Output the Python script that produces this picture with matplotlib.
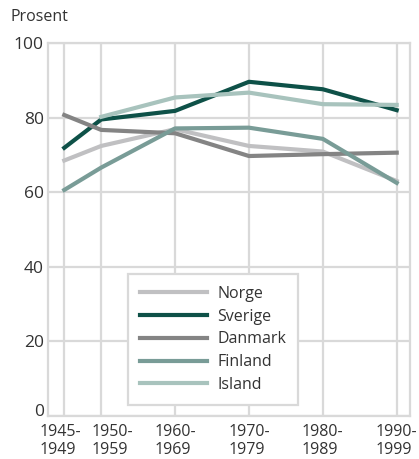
import matplotlib
matplotlib.use('Agg')
import matplotlib.pyplot as plt
import matplotlib.transforms as mtransforms

plt.rcParams['font.family'] = ['Open Sans', 'DejaVu Sans']

# start year of each period
years = [1945, 1950, 1960, 1970, 1980, 1990]
tick_labels = ['1945-\n1949', '1950-\n1959', '1960-\n1969', '1970-\n1979', '1980-\n1989', '1990-\n1999']

norge = [68.5, 72.4, 76.9, 72.4, 70.9, 63.0]
sverige = [71.9, 79.5, 81.8, 89.6, 87.6, 82.0]
danmark = [80.7, 76.7, 75.8, 69.7, 70.2, 70.6]
finland = [60.6, 66.6, 77.1, 77.3, 74.3, 62.5]
island_years = [1950, 1960, 1970, 1980, 1990]
island = [80.2, 85.4, 86.7, 83.6, 83.4]

grid_col = '#d9d9d9'

fig = plt.figure(figsize=(4.19, 4.59), dpi=100)
ax = fig.add_axes([0.1146, 0.0937, 0.8639, 0.8126])

ax.plot(years, norge, color='#c0c0c2', lw=3, label='Norge')
ax.plot(years, sverige, color='#0e5148', lw=3, label='Sverige')
ax.plot(years, danmark, color='#848484', lw=3, label='Danmark')
ax.plot(years, finland, color='#799c97', lw=3, label='Finland')
ax.plot(island_years, island, color='#a8c3bd', lw=3, label='Island')

ax.set_xlim(1942.8, 1991.8)
ax.set_ylim(0, 100)
ax.set_yticks([0, 20, 40, 60, 80, 100])
ax.set_xticks(years)
ax.set_xticklabels(tick_labels, fontsize=11.5, color='#333333', linespacing=1.15,
                   multialignment='left')
ax.tick_params(axis='y', labelsize=12.5, colors='#333333', length=0, pad=3)
ax.tick_params(axis='x', length=0, pad=6)
ax.grid(True, color=grid_col, lw=1.6)
ax.set_axisbelow(True)
for s in ax.spines.values():
    s.set_color(grid_col)
    s.set_linewidth(1.6)

# nudge crowded tick labels apart
pt = fig.dpi_scale_trans
xl = ax.get_xticklabels()
xl[0].set_transform(xl[0].get_transform() + mtransforms.ScaledTranslation(-3/72, 0, pt))
xl[1].set_transform(xl[1].get_transform() + mtransforms.ScaledTranslation(8/72, 0, pt))
yl = ax.get_yticklabels()
yl[0].set_transform(yl[0].get_transform() + mtransforms.ScaledTranslation(0, 4/72, pt))

leg = ax.legend(loc='lower left', bbox_to_anchor=(0.221, 0.03), fontsize=11.5,
                handlelength=4.2, handletextpad=0.65, labelspacing=0.42,
                borderpad=0.75, fancybox=False, framealpha=1, edgecolor=grid_col,
                borderaxespad=0)
leg.get_frame().set_linewidth(1.6)
for t in leg.get_texts():
    t.set_color('#333333')

fig.text(0.024, 0.955, 'Prosent', fontsize=11.5, color='#333333')

fig.savefig('out.png', dpi=100)
